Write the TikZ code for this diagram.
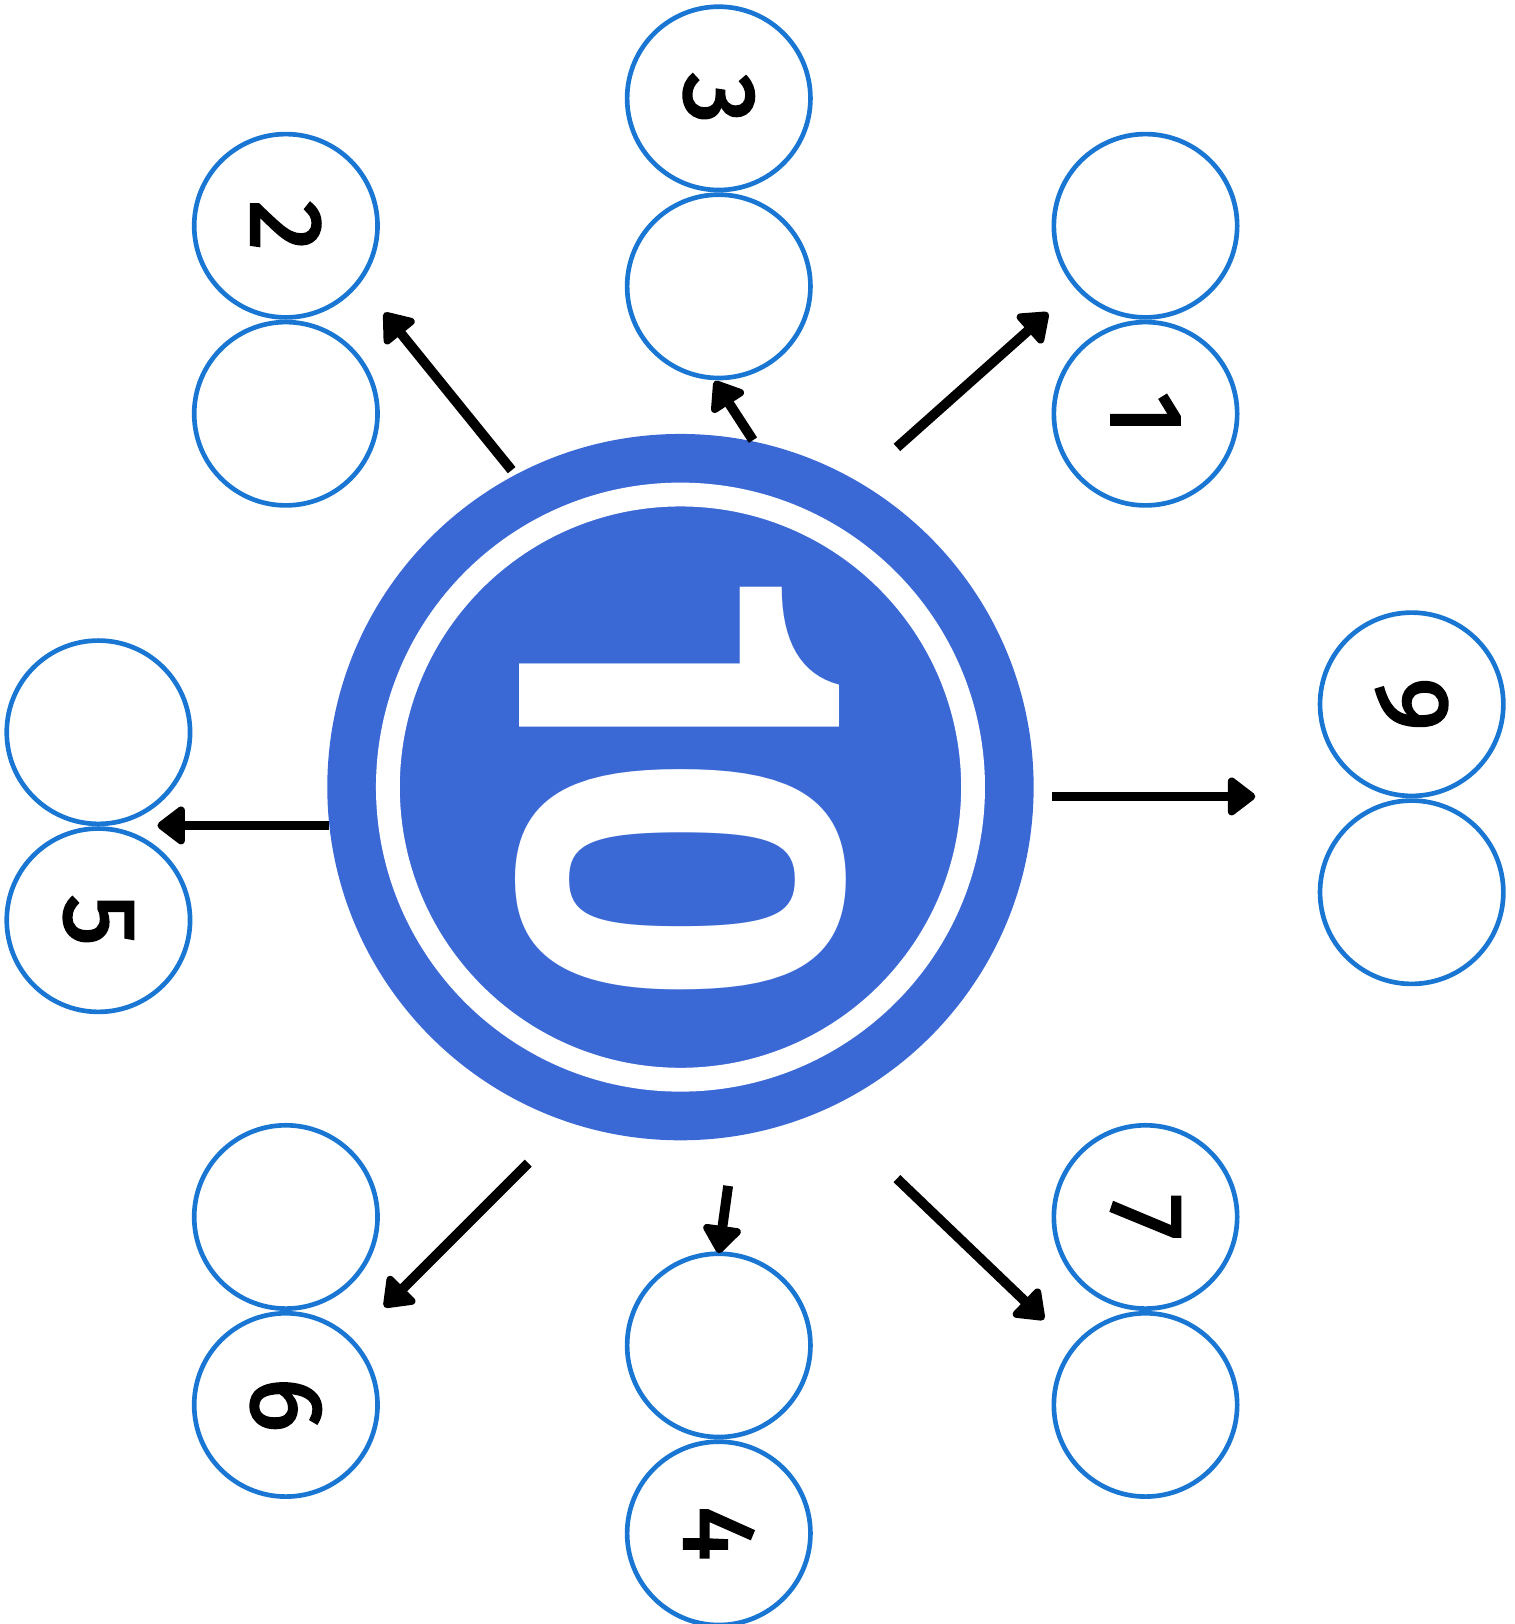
\documentclass[tikz,border=0pt]{standalone}
\usepackage{fontspec}
\setmainfont{TeX Gyre Heros}
\newfontfamily\bubblefont{Fira Sans}[FakeBold=2.5]
\definecolor{HubBlue}{RGB}{58,105,214}
\definecolor{RingBlue}{RGB}{25,118,210}
\usetikzlibrary{positioning, arrows.meta}
\newcommand{\turned}[1]{\rotatebox{-90}{#1}}

\begin{document}
\begin{tikzpicture}[
  hub/.style={circle, fill=HubBlue, minimum size=6.82cm, inner sep=0pt},
  ring/.style={circle, draw=white, line width=0.23cm, minimum size=5.65cm, inner sep=0pt},
  bubble/.style={circle, draw=RingBlue, line width=0.045cm, minimum size=1.77cm, inner sep=0pt, font=\bubblefont\fontsize{28}{28}\selectfont},
  arrow/.style={-{Triangle[round, length=0.29cm, width=0.42cm]}, line width=0.095cm, black}
]
\useasboundingbox (0,0) rectangle (14.62,15.68);

% centre number
\node[hub] (ten) at (6.57,8.08) {};
\node[ring] (tenring) at (ten) {};
\node[white, font=\bfseries\fontsize{124}{124}\selectfont] (tenlabel) at (6.57,8.13) {\turned{1\kern-0.5cm 0}};

% number pairs
\node[bubble] (n3) at (6.94,14.73) {\turned{3}};
\node[bubble, below=0pt of n3] (n3b) {};
\node[bubble] (n2) at (2.76,13.50) {\turned{2}};
\node[bubble, below=0pt of n2] (n2b) {};
\node[bubble] (n1a) at (11.06,13.50) {};
\node[bubble, below=0pt of n1a] (n1) {\turned{1}};
\node[bubble] (n5a) at (0.95,8.61) {};
\node[bubble, below=0pt of n5a] (n5) {\turned{5}};
\node[bubble] (n9) at (13.63,8.88) {\turned{9}};
\node[bubble, below=0pt of n9] (n9b) {};
\node[bubble] (n6a) at (2.76,3.93) {};
\node[bubble, below=0pt of n6a] (n6) {\turned{6}};
\node[bubble] (n4a) at (6.94,2.69) {};
\node[bubble, below=0pt of n4a] (n4) {\turned{4}};
\node[bubble] (n7) at (11.06,3.93) {\turned{7}};
\node[bubble, below=0pt of n7] (n7b) {};

% arrow ends
\coordinate (from3) at (7.27,11.43);
\coordinate (to3) at (6.90,12.00);
\coordinate (from2) at (4.94,11.14);
\coordinate (to2) at (3.71,12.66);
\coordinate (from1) at (8.66,11.36);
\coordinate (to1) at (10.12,12.66);
\coordinate (from9) at (10.16,7.99);
\coordinate (to9) at (12.12,7.99);
\coordinate (from5) at (3.18,7.71);
\coordinate (to5) at (1.52,7.71);
\coordinate (from6) at (5.10,4.45);
\coordinate (to6) at (3.71,3.06);
\coordinate (from4) at (7.03,4.23);
\coordinate (to4) at (6.94,3.58);
\coordinate (from7) at (8.66,4.30);
\coordinate (to7) at (10.08,2.94);

\draw[arrow] (from3) -- (to3);
\draw[arrow] (from2) -- (to2);
\draw[arrow] (from1) -- (to1);
\draw[arrow] (from9) -- (to9);
\draw[arrow] (from5) -- (to5);
\draw[arrow] (from6) -- (to6);
\draw[arrow] (from4) -- (to4);
\draw[arrow] (from7) -- (to7);

\end{tikzpicture}
\end{document}
